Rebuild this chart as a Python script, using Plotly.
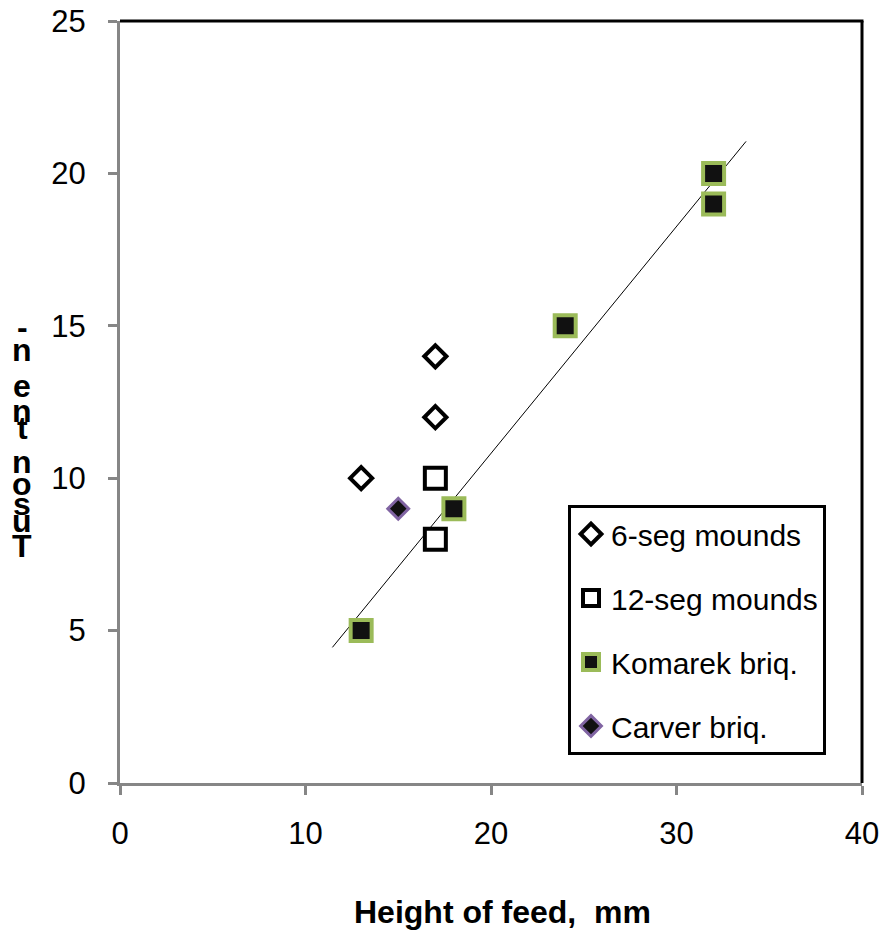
import plotly.graph_objects as go

# ---- data ----
seg6_x = [13, 17, 17]
seg6_y = [10, 12, 14]
seg12_x = [17, 17]
seg12_y = [10, 8]
komarek_x = [13, 18, 24, 32, 32]
komarek_y = [5, 9, 15, 20, 19]
carver_x = [15]
carver_y = [9]
trend_x = [11.45, 33.75]
trend_y = [4.45, 21.05]

x_ticks = [0, 10, 20, 30, 40]
y_ticks = [0, 5, 10, 15, 20, 25]

# garbled vertical y-axis title glyphs (as seen in the reference), top to bottom
ytitle_chars = ["-", "n", "e", "n", "t", "n", "o", "s", "u", "T"]
ytitle_px = [327, 350, 386, 411, 428, 462, 484, 504, 521, 546]

W, H = 887, 937
L, R, T, B = 120, 25, 21, 154

fig = go.Figure()

fig.add_trace(go.Scatter(
    x=trend_x, y=trend_y, mode="lines",
    line=dict(color="black", width=1), showlegend=False, hoverinfo="skip"))

fig.add_trace(go.Scatter(
    x=seg6_x, y=seg6_y, mode="markers", name="6-seg mounds", legendgroup="a",
    marker=dict(symbol="diamond", size=17, color="white",
                line=dict(color="black", width=4))))
fig.add_trace(go.Scatter(
    x=seg12_x, y=seg12_y, mode="markers", name="12-seg mounds", legendgroup="b",
    marker=dict(symbol="square", size=21, color="white",
                line=dict(color="black", width=4))))
fig.add_trace(go.Scatter(
    x=komarek_x, y=komarek_y, mode="markers", name="Komarek briq.", legendgroup="c",
    marker=dict(symbol="square", size=21, color="#111111",
                line=dict(color="#9BBB59", width=4))))
fig.add_trace(go.Scatter(
    x=carver_x, y=carver_y, mode="markers", name="Carver briq.", legendgroup="d",
    marker=dict(symbol="diamond", size=16, color="#111111",
                line=dict(color="#8064A2", width=3))))

axis_font = dict(family="Liberation Sans, Arial", size=31, color="black")

fig.update_xaxes(
    range=[0, 40], tickvals=x_ticks, ticktext=[str(v) for v in x_ticks],
    showgrid=False, zeroline=False, showline=True, linecolor="#868686", linewidth=3,
    ticks="outside", ticklen=9, tickwidth=3, tickcolor="#868686",
    tickfont=axis_font, ticklabelstandoff=12, automargin=False)
fig.update_yaxes(
    range=[0, 25], tickvals=y_ticks, ticktext=[str(v) for v in y_ticks],
    showgrid=False, zeroline=False, showline=True, linecolor="#868686", linewidth=3,
    ticks="outside", ticklen=9, tickwidth=3, tickcolor="#868686",
    tickfont=axis_font, ticklabelstandoff=16, automargin=False)

# top and right black frame
fig.add_shape(type="line", xref="paper", yref="paper", x0=0, x1=1.002, y0=1, y1=1,
              line=dict(color="black", width=3))
fig.add_shape(type="line", xref="paper", yref="paper", x0=1, x1=1, y0=0, y1=1,
              line=dict(color="black", width=3))

plot_w = W - L - R
plot_h = H - T - B

# x-axis title
fig.add_annotation(
    text="<b>Height of feed,  mm</b>", xref="paper", yref="paper",
    x=(503 - L) / plot_w, y=1 - (912 - T) / plot_h,
    xanchor="center", yanchor="middle", showarrow=False,
    font=dict(family="Liberation Sans, Arial", size=32, color="black"))

for ch, py in zip(ytitle_chars, ytitle_px):
    fig.add_annotation(
        text="<b>%s</b>" % ch, xref="paper", yref="paper",
        x=(22 - L) / plot_w, y=1 - (py - T) / plot_h,
        xanchor="center", yanchor="middle", showarrow=False,
        font=dict(family="Liberation Sans, Arial", size=32, color="black"))

fig.update_layout(
    width=W, height=H,
    margin=dict(l=L, r=R, t=T, b=B),
    plot_bgcolor="white", paper_bgcolor="white",
    showlegend=True,
    legend=dict(
        x=(568 - L) / plot_w, y=1 - (505 - T) / plot_h,
        xanchor="left", yanchor="top",
        bgcolor="white", bordercolor="black", borderwidth=3,
        font=dict(family="Liberation Sans, Arial", size=30, color="black"),
        tracegroupgap=22, itemwidth=30,
        traceorder="grouped"),
)

fig.write_html("out.html")
